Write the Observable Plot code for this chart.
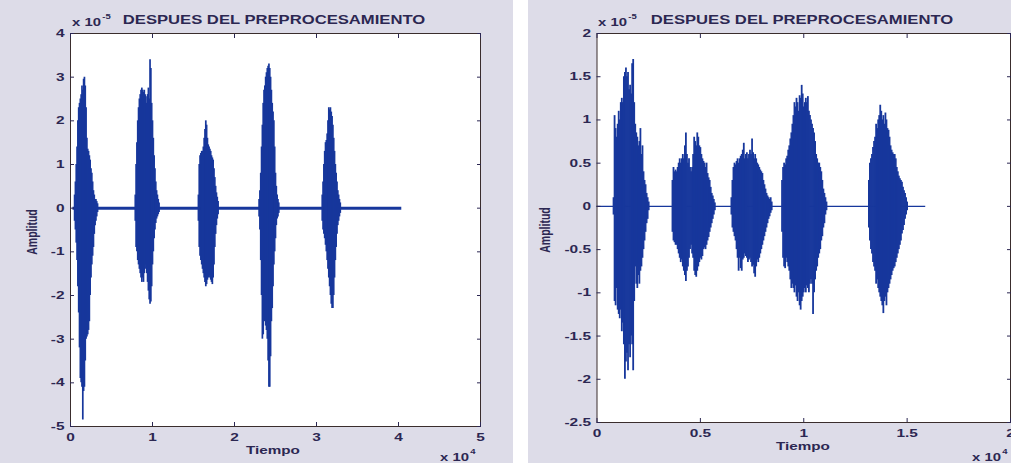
<!DOCTYPE html>
<html><head><meta charset="utf-8">
<script src="https://cdn.jsdelivr.net/npm/d3@7"></script>
<script src="https://cdn.jsdelivr.net/npm/@observablehq/plot@0.6"></script>
<style>
html,body{margin:0;padding:0;background:#fff;}
#fig{position:relative;width:1011px;height:463px;overflow:hidden;font-family:"Liberation Sans",Arial,sans-serif;}
.panel{position:absolute;top:0;height:463px;background:#dddce8;overflow:hidden;}
.lbl{position:absolute;white-space:nowrap;font-weight:bold;color:#2c2752;line-height:1;}
</style></head><body><div id="fig"></div>
<script>
// ---------- DATA (time in x10^4 samples, amplitude in x10^-5) ----------
const titleText = "DESPUES DEL PREPROCESAMIENTO";
const xLabel = "Tiempo";
const yLabel = "Amplitud";

// Left panel
const leftXTicks = [0, 1, 2, 3, 4, 5];
const leftYTicks = [-5, -4, -3, -2, -1, 0, 1, 2, 3, 4];
const leftSignalSpan = [0.03, 4.04];
const leftStep = 0.01;
const leftBurstStart = [0.05, 0.79, 1.56, 2.30, 3.07];
const leftBurstHigh = [
  [0.3,0.6,1.0,1.4,2.0,2.3,2.4,2.5,2.6,2.8,2.7,2.95,3.0,2.8,2.3,1.6,1.35,1.3,1.2,1.1,0.9,0.8,0.6,0.4,0.3,0.2,0.2,0.15,0.1],
  [0.3,1.0,1.5,2.0,2.3,2.5,2.6,2.7,2.75,2.7,2.65,2.7,2.6,2.55,2.4,2.6,2.75,2.5,3.4,3.2,2.4,2.0,1.6,1.2,0.9,0.6,0.4,0.3,0.2,0.12],
  [0.3,1.0,1.2,1.25,1.3,1.3,1.4,1.6,1.8,2.0,1.9,1.6,1.45,1.4,1.35,1.3,1.2,1.15,1.1,0.9,0.7,0.5,0.35,0.25,0.15],
  [0.2,0.4,0.8,1.4,1.9,2.4,2.7,2.8,3.0,3.1,3.2,3.25,3.3,3.2,3.0,2.7,2.4,2.2,2.0,1.4,0.8,0.5,0.3,0.2,0.12],
  [0.3,0.6,1.0,1.3,1.5,1.55,1.7,2.0,2.3,2.25,2.3,2.2,2.1,1.9,1.6,1.3,1.0,0.8,0.6,0.4,0.3,0.2,0.12]
];
const leftBurstLow = [
  [-0.3,-0.5,-0.8,-1.2,-1.8,-2.4,-3.2,-3.9,-4.0,-4.1,-4.85,-4.2,-4.1,-3.5,-3.0,-2.95,-2.9,-2.8,-2.6,-2.0,-1.6,-1.3,-1.1,-0.9,-0.6,-0.4,-0.3,-0.2,-0.1],
  [-0.3,-0.9,-1.0,-1.2,-1.3,-1.4,-1.5,-1.6,-1.7,-1.6,-1.7,-1.5,-1.4,-1.3,-1.5,-1.7,-1.9,-2.1,-2.2,-2.15,-1.8,-1.3,-1.0,-0.7,-0.5,-0.35,-0.25,-0.2,-0.15,-0.1],
  [-0.3,-0.9,-1.1,-1.2,-1.3,-1.4,-1.5,-1.6,-1.7,-1.8,-1.75,-1.65,-1.6,-1.55,-1.6,-1.65,-1.7,-1.75,-1.6,-1.3,-0.9,-0.6,-0.4,-0.25,-0.15],
  [-0.2,-0.5,-1.2,-2.0,-3.0,-2.9,-2.5,-2.6,-2.7,-2.8,-3.0,-3.5,-4.1,-4.1,-3.4,-2.6,-2.3,-1.8,-1.3,-1.0,-0.7,-0.4,-0.25,-0.2,-0.12],
  [-0.3,-0.5,-0.6,-0.7,-0.85,-1.0,-1.2,-1.4,-1.6,-1.8,-2.0,-2.2,-2.3,-2.3,-2.0,-1.6,-1.2,-0.9,-0.6,-0.4,-0.3,-0.2,-0.12]
];

// Right panel
const rightXTicks = [0, 0.5, 1, 1.5, 2];
const rightYTicks = [-2.5, -2, -1.5, -1, -0.5, 0, 0.5, 1, 1.5, 2];
const rightSignalSpan = [0.0, 1.59];
const rightStep = 0.005;
const rightBurstStart = [0.080, 0.365, 0.650, 0.895, 1.315];
const rightBurstHigh = [
  [0.1,1.05,0.9,0.8,0.95,1.1,1.0,1.2,1.25,1.2,1.5,1.55,1.6,1.5,1.55,1.35,1.4,1.3,1.65,1.7,1.2,0.95,0.85,0.8,0.7,0.75,0.9,0.6,0.7,0.4,0.3,0.25,0.15,0.1,0.05],
  [0.3,0.45,0.4,0.42,0.4,0.45,0.5,0.55,0.5,0.55,0.6,0.55,0.7,0.85,0.6,0.5,0.55,0.45,0.4,0.45,0.6,0.8,0.75,0.7,0.85,0.8,0.7,0.68,0.6,0.55,0.52,0.5,0.45,0.5,0.38,0.33,0.3,0.22,0.15,0.12,0.08,0.04],
  [0.1,0.3,0.45,0.5,0.48,0.52,0.55,0.5,0.55,0.58,0.6,0.65,0.73,0.55,0.6,0.62,0.55,0.6,0.65,0.6,0.78,0.62,0.55,0.6,0.55,0.5,0.48,0.45,0.42,0.4,0.38,0.3,0.25,0.2,0.15,0.12,0.1,0.08,0.1,0.05],
  [0.3,0.45,0.5,0.48,0.55,0.58,0.65,0.7,0.78,0.85,0.95,1.05,1.2,1.15,1.25,1.2,1.1,1.28,1.25,1.4,1.3,1.15,1.2,1.25,1.2,1.27,1.1,1.05,1.0,0.95,0.9,0.85,0.75,0.6,0.55,0.5,0.5,0.45,0.4,0.3,0.2,0.15,0.1,0.05],
  [0.3,0.5,0.55,0.6,0.68,0.75,0.8,0.95,0.9,1.0,1.05,1.17,1.1,1.0,1.05,0.95,1.08,1.0,0.9,0.88,0.8,0.7,0.65,0.62,0.6,0.6,0.55,0.45,0.4,0.35,0.32,0.3,0.28,0.22,0.18,0.15,0.1,0.05]
];
const rightBurstLow = [
  [-0.1,-1.1,-1.15,-0.95,-1.2,-1.25,-1.3,-1.2,-1.45,-1.35,-1.6,-2.0,-1.8,-1.7,-1.9,-1.6,-1.75,-1.5,-1.6,-1.9,-1.1,-0.7,-0.9,-0.95,-0.8,-0.9,-0.75,-0.7,-0.6,-0.5,-0.4,-0.3,-0.2,-0.15,-0.05],
  [-0.3,-0.4,-0.42,-0.45,-0.45,-0.5,-0.55,-0.6,-0.65,-0.62,-0.7,-0.75,-0.8,-0.87,-0.75,-0.7,-0.6,-0.5,-0.45,-0.55,-0.6,-0.75,-0.8,-0.82,-0.75,-0.7,-0.65,-0.6,-0.62,-0.58,-0.5,-0.48,-0.5,-0.45,-0.4,-0.36,-0.3,-0.25,-0.2,-0.15,-0.1,-0.05],
  [-0.1,-0.25,-0.3,-0.35,-0.4,-0.5,-0.6,-0.75,-0.6,-0.72,-0.75,-0.62,-0.6,-0.55,-0.58,-0.6,-0.65,-0.62,-0.6,-0.65,-0.7,-0.68,-0.78,-0.82,-0.7,-0.62,-0.65,-0.6,-0.55,-0.5,-0.45,-0.4,-0.35,-0.3,-0.25,-0.2,-0.15,-0.12,-0.08,-0.05],
  [-0.3,-0.6,-0.7,-0.72,-0.6,-0.65,-0.7,-0.75,-0.85,-0.95,-0.9,-0.95,-1.0,-0.92,-1.05,-1.1,-1.0,-1.15,-1.2,-1.1,-1.05,-1.0,-0.95,-1.0,-0.92,-0.95,-1.0,-0.9,-0.85,-0.9,-1.25,-1.0,-0.85,-0.75,-0.7,-0.6,-0.55,-0.5,-0.4,-0.35,-0.25,-0.2,-0.1,-0.05],
  [-0.25,-0.4,-0.5,-0.55,-0.65,-0.7,-0.75,-0.9,-0.85,-0.95,-1.0,-1.05,-1.1,-1.15,-1.24,-1.1,-1.05,-1.15,-1.0,-0.95,-0.9,-0.85,-0.8,-0.75,-0.72,-0.7,-0.65,-0.6,-0.55,-0.5,-0.45,-0.4,-0.32,-0.28,-0.22,-0.15,-0.1,-0.05]
];

// ---------- BUILD ----------
const BLUE = "#17379c";
const INK = "#2c2752";
const fmt = d => String(d);

function burstRows(starts, step, highs, lows) {
  const rows = [];
  starts.forEach((s, b) => {
    highs[b].forEach((h, i) => rows.push({t: s + i * step, hi: h, lo: lows[b][i]}));
  });
  return rows;
}

function label(panel, html, o) {
  const el = document.createElement("div");
  el.className = "lbl";
  el.innerHTML = html;
  el.style.fontSize = o.size + "px";
  if (o.rotate) {
    el.style.left = o.x + "px"; el.style.top = o.y + "px";
    el.style.transform = `translate(-50%,-50%) rotate(-90deg) scaleY(${o.scale})`;
  } else {
    el.style.top = (o.baseline - 0.85 * o.size) + "px";
    el.style.left = o.x + "px";
    if (o.align === "center") el.style.transform = `translateX(-50%) scaleX(${o.scale})`;
    else { el.style.transformOrigin = "0 0"; el.style.transform = `scaleX(${o.scale})`; }
  }
  panel.appendChild(el);
}

function makePanel(cfg) {
  const panel = document.createElement("div");
  panel.className = "panel";
  panel.style.left = cfg.left + "px";
  panel.style.width = cfg.panelWidth + "px";
  document.getElementById("fig").appendChild(panel);

  const rows = burstRows(cfg.starts, cfg.step, cfg.highs, cfg.lows);
  const base = [{y: 0, x1: cfg.span[0], x2: cfg.span[1]}];

  const svg = Plot.plot({
    width: cfg.svgWidth, height: 463,
    marginTop: cfg.mt, marginRight: cfg.mr, marginBottom: cfg.mb, marginLeft: cfg.ml,
    style: {background: "transparent", maxWidth: "none", fontFamily: '"Liberation Sans", Arial, sans-serif',
            fontSize: "11px", fontWeight: "bold", color: INK, position: "absolute", left: "0px", top: "0px", overflow: "visible"},
    x: {domain: cfg.xDomain},
    y: {domain: cfg.yDomain},
    marks: [
      Plot.frame({fill: "white", stroke: null}),
      Plot.ruleY(base, {y: "y", x1: "x1", x2: "x2", stroke: BLUE, strokeWidth: cfg.baseWidth}),
      Plot.ruleX(rows, {x: "t", y1: "lo", y2: "hi", stroke: BLUE, strokeWidth: cfg.ruleWidth}),
      Plot.frame({stroke: "#3a2d2d", strokeWidth: 1}),
      Plot.axisX(cfg.xTicks, {anchor: "bottom", tickSize: -4, tickPadding: 11, tickFormat: fmt, label: null}),
      Plot.axisX(cfg.xTicks, {anchor: "top", tickSize: -4, tickFormat: () => "", label: null}),
      Plot.axisY(cfg.yTicks, {anchor: "left", tickSize: -4, tickPadding: 10, tickFormat: fmt, label: null}),
      Plot.axisY(cfg.yTicks, {anchor: "right", tickSize: -4, tickFormat: () => "", label: null})
    ]
  });
  svg.querySelectorAll('g[aria-label$="tick label"] text').forEach(t => {
    const tr = t.getAttribute("transform") || "";
    t.setAttribute("transform", tr + " scale(1.4,1)");
  });
  panel.appendChild(svg);

  label(panel, titleText, {x: cfg.titleX, baseline: 25, size: 12.5, align: "center", scale: 1.33});
  label(panel, 'x 10<span style="font-size:7px;position:relative;top:-7px;margin-left:1px">' + cfg.yExp + '</span>',
        {x: cfg.yExpX, baseline: 26, size: 11, align: "left", scale: 1.35});
  label(panel, xLabel, {x: cfg.xLabelX, baseline: cfg.xLabelBase, size: 10.5, align: "center", scale: 1.45});
  label(panel, 'x 10<span style="font-size:7px;position:relative;top:-7px;margin-left:1px">' + cfg.xExp + '</span>',
        {x: cfg.xExpX, baseline: 461, size: 11, align: "left", scale: 1.35});
  label(panel, yLabel, {x: cfg.yLabelX, y: cfg.yLabelY, size: 10.5, rotate: true, scale: 1.35});
}

makePanel({
  left: 0, panelWidth: 513, svgWidth: 513,
  mt: 33, mr: 33, mb: 37, ml: 70,
  xDomain: [0, 5], yDomain: [-5, 4], xTicks: leftXTicks, yTicks: leftYTicks,
  starts: leftBurstStart, step: leftStep, highs: leftBurstHigh, lows: leftBurstLow,
  span: leftSignalSpan, baseWidth: 3, ruleWidth: 1.7,
  titleX: 274, yExp: "-5", yExpX: 72, xLabelX: 273, xLabelBase: 454, xExp: "4", xExpX: 440,
  yLabelX: 32, yLabelY: 232
});
makePanel({
  left: 528, panelWidth: 483, svgWidth: 520,
  mt: 33, mr: 38, mb: 41, ml: 68.5,
  xDomain: [0, 2], yDomain: [-2.5, 2], xTicks: rightXTicks, yTicks: rightYTicks,
  starts: rightBurstStart, step: rightStep, highs: rightBurstHigh, lows: rightBurstLow,
  span: rightSignalSpan, baseWidth: 1.2, ruleWidth: 1.8,
  titleX: 274, yExp: "-5", yExpX: 70, xLabelX: 275, xLabelBase: 450, xExp: "4", xExpX: 444,
  yLabelX: 17, yLabelY: 230
});
</script></body></html>
